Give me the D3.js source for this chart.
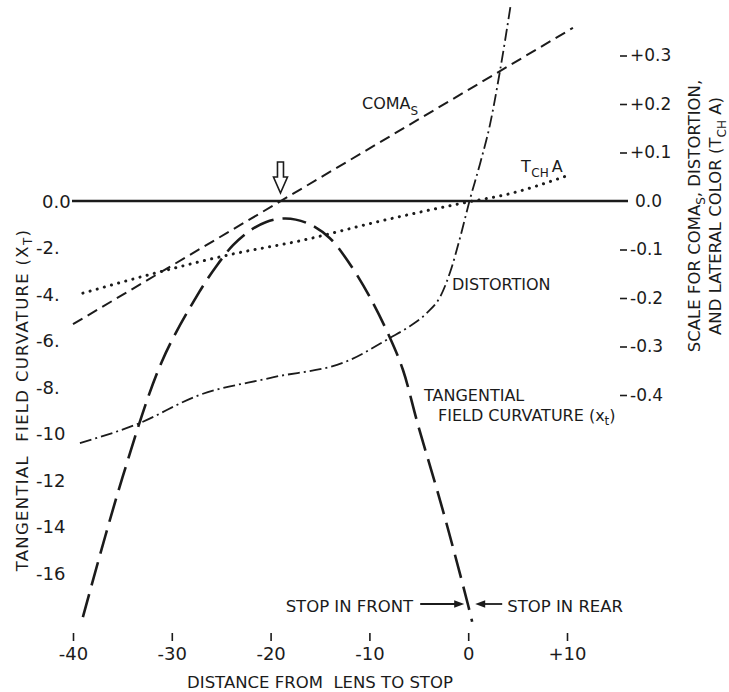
<!DOCTYPE html>
<html>
<head>
<meta charset="utf-8">
<script src="https://cdn.jsdelivr.net/npm/d3@7"></script>
<style>
  html, body { margin: 0; padding: 0; background: #fff; }
  svg { display: block; font-family: "DejaVu Sans", sans-serif; }
</style>
</head>
<body>
<svg id="chart" width="729" height="692"></svg>
<script>
// ---- axis ticks and labels ----
const xTickValues = [-40, -30, -20, -10, 0, 10];
const xTickLabels = ["-40", "-30", "-20", "-10", "0", "+10"];
const leftTickValues = [0, -2, -4, -6, -8, -10, -12, -14, -16];
const leftTickLabels = ["0.0", "-2.", "-4.", "-6.", "-8.", "-10", "-12", "-14", "-16"];
const rightTickValues = [0.3, 0.2, 0.1, 0, -0.1, -0.2, -0.3, -0.4];
const rightTickLabels = ["+0.3", "+0.2", "+0.1", "0.0", "-0.1", "-0.2", "-0.3", "-0.4"];

// ---- series: stop distance vs aberration ----
// tangential field curvature (left scale)
const tangentialStop = [-39.0, -35, -31, -27.2, -25.4, -23.8, -22.1, -20.5, -18.5, -16.3, -14, -12, -10, -7.9, -6.6, -5.1, -2.5, 0, 0.4];
const tangentialValue = [-17.9, -11.9, -6.9, -3.9, -2.75, -1.9, -1.28, -0.91, -0.75, -0.95, -1.6, -2.7, -4.1, -5.9, -7.27, -9.6, -13.4, -17.4, -18.1];
// sagittal coma (right scale)
const comaStop = [-40, 10.6];
const comaValue = [-0.254, 0.357];
// distortion (right scale)
const distortionStop = [-39.3, -33.5, -27.2, -20.1, -12, -7.9, -6.2, -4.2, -2.8, -1.8, -0.8, 0.13, 1.2, 2.2, 3.2, 4.3];
const distortionValue = [-0.499, -0.46, -0.40, -0.365, -0.328, -0.282, -0.262, -0.231, -0.196, -0.145, -0.074, 0, 0.077, 0.157, 0.266, 0.404];
// lateral colour TchA (right scale)
const tchaStop = [-39, -31, -24, -17, -8.6, 0, 4, 10];
const tchaValue = [-0.19, -0.145, -0.11, -0.082, -0.04, -0.002, 0.014, 0.052];

// stop position marked by the arrow above the zero line
const markedStop = -19;

const svg = d3.select("#chart");
const ink = "#1b1b1b";

const x = d3.scaleLinear().domain([-40, 10]).range([73, 567]);
const yL = d3.scaleLinear().domain([0, -16]).range([201, 573]);
const yR = d3.scaleLinear().domain([0, 0.3]).range([201, 55.5]);

// ---- axes ----
const gx = svg.append("g")
  .attr("transform", "translate(0,633)")
  .call(d3.axisBottom(x).tickValues(xTickValues)
    .tickFormat((d, i) => xTickLabels[i]).tickSize(8).tickPadding(6));
gx.select(".domain").remove();
gx.attr("font-size", 18).attr("font-family", null);
gx.selectAll("line").attr("stroke", ink).attr("stroke-width", 1.6);
gx.selectAll("text").attr("fill", ink);

const gl = svg.append("g")
  .attr("transform", "translate(68,0)")
  .call(d3.axisLeft(yL).tickValues(leftTickValues)
    .tickFormat((d, i) => leftTickLabels[i]).tickSize(0).tickPadding(0));
gl.select(".domain").remove();
gl.attr("font-size", 18).attr("font-family", null);
gl.selectAll("text").attr("fill", ink)
  .attr("text-anchor", "start")
  .attr("x", d => d === 0 ? -26 : -32)
  .attr("dy", "0.36em");

const gr = svg.append("g")
  .attr("transform", "translate(620,0)")
  .call(d3.axisRight(yR).tickValues(rightTickValues)
    .tickFormat((d, i) => rightTickLabels[i]).tickSize(7).tickPadding(3));
gr.select(".domain").remove();
gr.attr("font-size", 17).attr("font-family", null);
gr.selectAll("line").attr("stroke", ink).attr("stroke-width", 1.6)
  .attr("display", d => d === 0 ? "none" : null);
gr.selectAll("text").attr("fill", ink)
  .attr("x", d => d === 0 ? 15 : 10);

// ---- zero reference line ----
svg.append("line")
  .attr("x1", 72).attr("x2", 628)
  .attr("y1", yL(0)).attr("y2", yL(0))
  .attr("stroke", ink).attr("stroke-width", 2.6);

// ---- curves ----
function drawSeries(xs, ys, yScale, curve, dash, width, cap) {
  const pts = xs.map((d, i) => [d, ys[i]]);
  const line = d3.line().x(d => x(d[0])).y(d => yScale(d[1])).curve(curve);
  svg.append("path")
    .attr("d", line(pts))
    .attr("fill", "none")
    .attr("stroke", ink)
    .attr("stroke-width", width)
    .attr("stroke-dasharray", dash)
    .attr("stroke-linecap", cap || "butt");
}

drawSeries(tangentialStop, tangentialValue, yL, d3.curveCatmullRom.alpha(0.5), "24 9", 2.6);
drawSeries(comaStop, comaValue, yR, d3.curveLinear, "11 6", 2);
drawSeries(distortionStop, distortionValue, yR, d3.curveMonotoneX, "12 4 2 4", 1.8);
drawSeries(tchaStop, tchaValue, yR, d3.curveMonotoneX, "0.1 7.3", 3, "round");

// ---- arrow marking the stop position ----
const ax = x(markedStop);
svg.append("path")
  .attr("d", `M${ax - 3},162 L${ax + 3},162 L${ax + 3},177 L${ax + 7},177 L${ax},193 L${ax - 7},177 L${ax - 3},177 Z`)
  .attr("fill", "#fff").attr("stroke", ink).attr("stroke-width", 1.6)
  .attr("stroke-linejoin", "miter");

// ---- curve labels ----
const lab = svg.append("g").attr("fill", ink).attr("font-size", 16);

const coma = lab.append("text").attr("x", 362).attr("y", 109);
coma.append("tspan").text("COMA");
coma.append("tspan").attr("font-size", 12).attr("dy", 6).text("S");

const tcha = lab.append("text").attr("x", 521).attr("y", 172);
tcha.append("tspan").text("T");
tcha.append("tspan").attr("font-size", 12).attr("dy", 5).attr("dx", 0.5).text("CH");
tcha.append("tspan").attr("dy", -5).attr("dx", 3).text("A");

lab.append("text").attr("x", 452).attr("y", 290).text("DISTORTION");
lab.append("text").attr("x", 424).attr("y", 401).text("TANGENTIAL");
const fc = lab.append("text").attr("x", 438).attr("y", 421);
fc.append("tspan").text("FIELD CURVATURE (x");
fc.append("tspan").attr("font-size", 12).attr("dy", 4).text("t");
fc.append("tspan").attr("dy", -4).text(")");

// ---- stop in front / stop in rear ----
const x0 = x(0);
const ay = 604;
const stopG = svg.append("g").attr("fill", ink).attr("font-size", 16.5);
stopG.append("text").attr("x", x0 - 55).attr("y", 612).attr("text-anchor", "end").text("STOP IN FRONT");
stopG.append("text").attr("x", x0 + 39).attr("y", 612).text("STOP IN REAR");
svg.append("line").attr("x1", x0 - 48).attr("x2", x0 - 12).attr("y1", ay).attr("y2", ay)
  .attr("stroke", ink).attr("stroke-width", 1.8);
svg.append("path").attr("d", `M${x0 - 4},${ay} L${x0 - 14},${ay - 3.8} L${x0 - 14},${ay + 3.8} Z`).attr("fill", ink);
svg.append("line").attr("x1", x0 + 34).attr("x2", x0 + 16).attr("y1", ay).attr("y2", ay)
  .attr("stroke", ink).attr("stroke-width", 1.8);
svg.append("path").attr("d", `M${x0 + 7},${ay} L${x0 + 17},${ay - 3.8} L${x0 + 17},${ay + 3.8} Z`).attr("fill", ink);

// ---- axis titles ----
svg.append("text")
  .attr("x", (x(-40) + x(10)) / 2).attr("y", 688)
  .attr("text-anchor", "middle").attr("font-size", 16.5).attr("fill", ink)
  .attr("xml:space", "preserve")
  .text("DISTANCE FROM  LENS TO STOP");

const yt = svg.append("text")
  .attr("transform", "translate(28,400) rotate(-90)")
  .attr("text-anchor", "middle").attr("font-size", 16.5).attr("fill", ink)
  .attr("letter-spacing", 1.3)
  .attr("xml:space", "preserve");
yt.append("tspan").text("TANGENTIAL  FIELD CURVATURE (X");
yt.append("tspan").attr("font-size", 12).attr("dy", 4).text("T");
yt.append("tspan").attr("dy", -4).text(")");

const rt1 = svg.append("text")
  .attr("transform", "translate(700,216) rotate(-90)")
  .attr("text-anchor", "middle").attr("font-size", 16.5).attr("fill", ink);
rt1.append("tspan").text("SCALE FOR COMA");
rt1.append("tspan").attr("font-size", 12).attr("dy", 5).text("S");
rt1.append("tspan").attr("dy", -5).text(", DISTORTION,");

const rt2 = svg.append("text")
  .attr("transform", "translate(721,216) rotate(-90)")
  .attr("text-anchor", "middle").attr("font-size", 16.5).attr("fill", ink);
rt2.append("tspan").text("AND LATERAL COLOR (T");
rt2.append("tspan").attr("font-size", 12).attr("dy", 5).text("CH");
rt2.append("tspan").attr("dy", -5).text(" A)");
</script>
</body>
</html>
